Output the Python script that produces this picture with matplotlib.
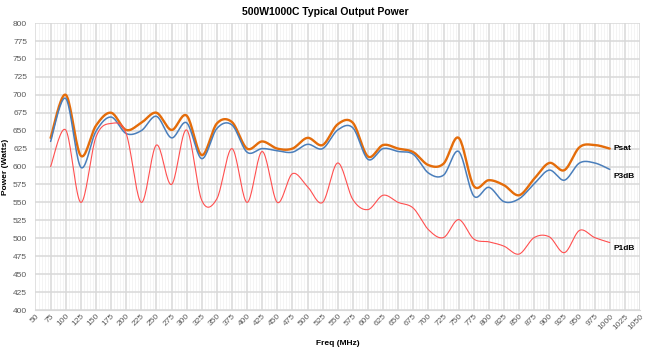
import matplotlib
matplotlib.use('Agg')
import matplotlib.pyplot as plt
from matplotlib.ticker import MultipleLocator
import numpy as np

plt.rcParams['font.family'] = ['Liberation Sans', 'DejaVu Sans']

freq = [75, 100, 125, 150, 175, 200, 225, 250, 275, 300,
        325, 350, 375, 400, 425, 450, 475, 500, 525, 550,
        575, 600, 625, 650, 675, 700, 725, 750, 775, 800,
        825, 850, 875, 900, 925, 950, 975, 1000]

psat = [640, 700, 615, 657, 675, 651, 661, 675, 651, 671,
        616, 660, 662, 625, 635, 625, 625, 640, 630, 659,
        661, 614, 630, 625, 620, 602, 604, 640, 573, 581,
        574, 560, 583, 605, 595, 627, 630, 625]

p3db = [635, 695, 599, 649, 669, 646, 650, 670, 640, 661,
        611, 653, 658, 620, 625, 622, 620, 631, 625, 651,
        654, 610, 625, 621, 617, 591, 588, 621, 559, 571,
        551, 555, 576, 595, 581, 605, 605, 596]

p1db = [600, 651, 550, 641, 660, 646, 550, 630, 575, 651,
        553, 555, 625, 550, 621, 550, 590, 572, 550, 605,
        554, 540, 560, 550, 542, 512, 501, 526, 499, 495,
        489, 478, 501, 502, 480, 511, 501, 494]

series = [
    ('Psat', psat, '#E46C0A', 1.7, 0),
    ('P3dB', p3db, '#4A7EBB', 1.1, -5),
    ('P1dB', p1db, '#FF4F4F', 0.8, -4),
]


def smooth(x, y, n=20):
    # Excel style smoothed line (Catmull-Rom through the points)
    x = np.asarray(x, float)
    y = np.asarray(y, float)
    px = np.concatenate([[x[0]], x, [x[-1]]])
    py = np.concatenate([[y[0]], y, [y[-1]]])
    xs, ys = [], []
    t = np.linspace(0, 1, n, endpoint=False)
    for i in range(1, len(px) - 2):
        p0, p1, p2, p3 = px[i-1], px[i], px[i+1], px[i+2]
        q0, q1, q2, q3 = py[i-1], py[i], py[i+1], py[i+2]
        c1x, c1y = p1 + (p2 - p0) / 6, q1 + (q2 - q0) / 6
        c2x, c2y = p2 - (p3 - p1) / 6, q2 - (q3 - q1) / 6
        b = [(1-t)**3, 3*(1-t)**2*t, 3*(1-t)*t**2, t**3]
        xs.append(b[0]*p1 + b[1]*c1x + b[2]*c2x + b[3]*p2)
        ys.append(b[0]*q1 + b[1]*c1y + b[2]*c2y + b[3]*q2)
    xs.append([x[-1]])
    ys.append([y[-1]])
    return np.concatenate(xs), np.concatenate(ys)


fig = plt.figure(figsize=(6.5, 3.56), dpi=100)
ax = fig.add_axes([0.0546, 0.1292, 0.930, 0.806])

for name, vals, col, lw, dy in series:
    sx, sy = smooth(freq, vals)
    ax.plot(sx, sy, color=col, linewidth=lw, solid_capstyle='round', zorder=3)
    ax.annotate(name, (freq[-1], vals[-1]), xytext=(3, dy), textcoords='offset points',
                fontsize=6, fontweight='bold', va='center', ha='left', color='black')

ax.set_xlim(50, 1050)
ax.set_ylim(400, 800)
ax.xaxis.set_major_locator(MultipleLocator(25))
ax.xaxis.set_minor_locator(MultipleLocator(5))
ax.yaxis.set_major_locator(MultipleLocator(25))
ax.grid(which='major', color='#D9D9D9', linewidth=1.1, zorder=0)
ax.grid(which='minor', axis='x', color='#F3F3F3', linewidth=0.6, zorder=0)
ax.set_axisbelow(True)
for s in ['top', 'right', 'left']:
    ax.spines[s].set_visible(False)
ax.spines['bottom'].set_color('#D9D9D9')

ax.tick_params(which='both', length=0, labelsize=6, labelcolor='#595959')
ax.tick_params(axis='y', pad=6)
ax.tick_params(axis='x', pad=2)
plt.setp(ax.get_xticklabels(), rotation=45, ha='right', rotation_mode='anchor')

ax.set_xlabel('Freq (MHz)', fontsize=6, fontweight='bold', labelpad=6)
ax.set_ylabel('Power (Watts)', fontsize=6, fontweight='bold', labelpad=3)
fig.text(0.5, 0.965, '500W1000C Typical Output Power', ha='center', va='center',
         fontsize=7.5, fontweight='bold')

fig.savefig('out.png', dpi=100)
